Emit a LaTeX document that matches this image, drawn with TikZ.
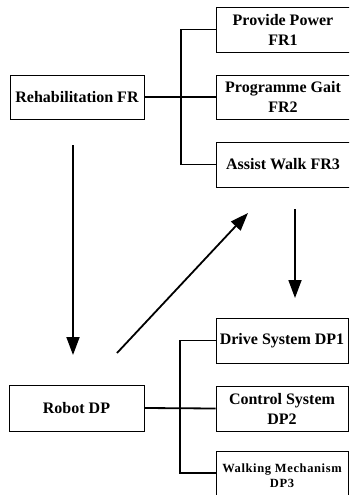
\documentclass[tikz,border=0pt]{standalone}
\usepackage{fontspec}
\setmainfont{Liberation Serif}
\newfontfamily\widefont[LetterSpace=5]{Liberation Serif}
\usetikzlibrary{arrows.meta}
\tikzset{
  box/.style={draw, line width=0.9pt, inner sep=0pt, align=center,
    font=\bfseries\fontsize{16}{20}\selectfont},
  link/.style={line width=1.8pt},
  arr/.style={line width=1.8pt, -{Triangle[length=18pt,width=13pt]}}
}
\begin{document}
\begin{tikzpicture}[x=1pt,y=-1pt]
\useasboundingbox (0,0) rectangle (349,495);
\clip (0,0) rectangle (349,495);
% top level
\node[box, minimum width=134pt, minimum height=44pt] (rehab) at (77,97) {Rehabilitation FR};
\node[box, minimum width=134pt, minimum height=45pt] (fr1) at (283,29.5) {Provide Power\\FR1};
\node[box, minimum width=134pt, minimum height=44pt] (fr2) at (283,97) {Programme Gait\\FR2};
\node[box, minimum width=134pt, minimum height=45pt] (fr3) at (283,164.5) {Assist Walk FR3};
% bottom level
\node[box, minimum width=135pt, minimum height=46pt] (robot) at (76.5,408) {Robot DP};
\node[box, minimum width=132pt, minimum height=45pt] (dp1) at (282,340.5) {Drive System DP1};
\node[box, minimum width=132pt, minimum height=45pt] (dp2) at (282,408.5) {Control System\\DP2};
\node[box, minimum width=132pt, minimum height=50pt,
      font=\bfseries\widefont\fontsize{12.5}{15}\selectfont] (dp3) at (282,476) {Walking Mechanism\\DP3};
% brackets
\draw[link] (fr1.west) -- (181,29.5) |- (fr3.west);
\draw[link] (rehab.east) -- (fr2.west);
\draw[link] (dp1.west) -- (180,340.5) |- (dp3.west |- 0,473);
\draw[link] (robot.east) -- (dp2.west);
% arrows
\coordinate (a1s) at (73,145);
\coordinate (a1e) at (73,355);
\coordinate (a2s) at (117,353);
\coordinate (a2e) at (248,213);
\coordinate (a3s) at (295,209);
\coordinate (a3e) at (295,298);
\draw[arr] (a1s) -- (a1e);
\draw[arr] (a2s) -- (a2e);
\draw[arr] (a3s) -- (a3e);
\end{tikzpicture}
\end{document}
